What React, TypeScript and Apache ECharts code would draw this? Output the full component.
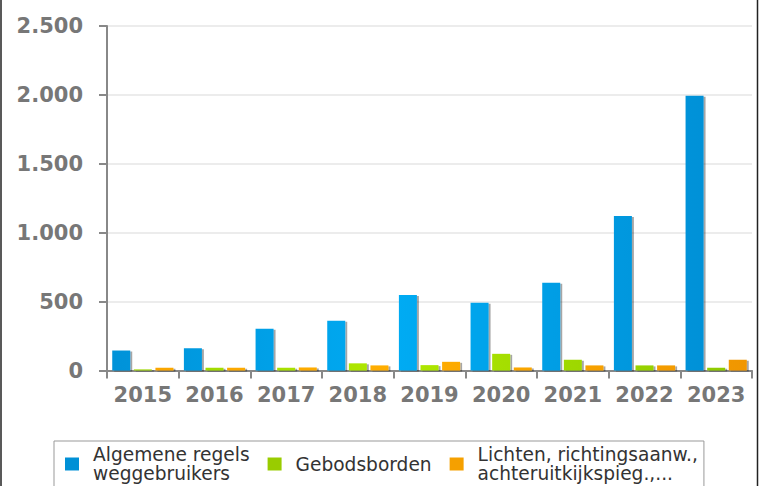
import React, { useEffect, useRef } from "react";
import * as echarts from "echarts";

const categories = ["2015", "2016", "2017", "2018", "2019", "2020", "2021", "2022", "2023"];
const seriesNames = [
  "Algemene regels\nweggebruikers",
  "Gebodsborden",
  "Lichten, richtingsaanw.,\nachteruitkijkspieg.,...",
];
const algemeneRegels = [145, 162, 303, 361, 547, 492, 637, 1121, 1993];
const gebodsborden = [8, 20, 20, 52, 39, 121, 78, 37, 20];
const lichten = [20, 20, 22, 37, 63, 22, 37, 37, 78];
const legendColors = ["#0090d6", "#99cc00", "#f5a000"];

const GRID_LEFT = 107;
const GRID_RIGHT_X = 752;

function grad(c0: string, c1: string, c2: string) {
  return new echarts.graphic.LinearGradient(
    GRID_LEFT,
    0,
    GRID_RIGHT_X,
    0,
    [
      { offset: 0, color: c0 },
      { offset: 0.45, color: c1 },
      { offset: 1, color: c2 },
    ],
    true
  );
}

function fmt(v: number) {
  return String(v).replace(/\B(?=(\d{3})+(?!\d))/g, ".");
}

export default function App() {
  const ref = useRef<HTMLDivElement>(null);
  useEffect(() => {
    if (!ref.current) return;
    const chart = echarts.init(ref.current, undefined, { renderer: "svg" });
    const shadow = {
      shadowColor: "rgba(0,0,0,0.35)",
      shadowOffsetX: 2,
      shadowOffsetY: 1,
      shadowBlur: 1,
    };
    const fills = [
      grad("#0092d8", "#00abf3", "#008dd3"),
      grad("#9ad400", "#b0e800", "#8cc800"),
      grad("#f9a400", "#ffae00", "#f09600"),
    ];
    const values = [algemeneRegels, gebodsborden, lichten];
    chart.setOption({
      animation: false,
      textStyle: { fontFamily: "DejaVu Sans" },
      graphic: [
        {
          type: "line",
          shape: { x1: 1, y1: -5, x2: 1, y2: 495 },
          style: { stroke: "#222", lineWidth: 1.5 },
          silent: true,
        },
        {
          type: "line",
          shape: { x1: 757.5, y1: -5, x2: 757.5, y2: 495 },
          style: { stroke: "#222", lineWidth: 1.5 },
          silent: true,
        },
      ],
      grid: {
        left: GRID_LEFT,
        right: 765 - GRID_RIGHT_X,
        top: 26,
        bottom: 486 - 370.5,
        containLabel: false,
      },
      legend: {
        left: 54,
        top: 441,
        orient: "horizontal",
        icon: "rect",
        itemWidth: 14,
        itemHeight: 13,
        itemGap: 18,
        borderColor: "#999",
        borderWidth: 1,
        padding: [4, 6, 5, 11],
        textStyle: {
          fontFamily: "DejaVu Sans",
          fontSize: 18.6,
          lineHeight: 19,
          color: "#333",
          padding: [0, 0, 0, 9],
        },
        data: seriesNames.map((n, i) => ({
          name: n,
          itemStyle: { color: legendColors[i] },
        })),
      },
      xAxis: {
        type: "category",
        data: categories,
        axisLine: { lineStyle: { color: "#888", width: 2 } },
        axisTick: { show: true, length: 8, lineStyle: { color: "#888", width: 2 } },
        axisLabel: {
          interval: 0,
          fontFamily: "DejaVu Sans",
          fontSize: 21,
          fontWeight: "bold",
          color: "#777",
          margin: 14,
          lineHeight: 21,
        },
        splitLine: { show: false },
      },
      yAxis: {
        type: "value",
        min: 0,
        max: 2500,
        interval: 500,
        axisLine: { show: true, lineStyle: { color: "#888", width: 2 } },
        axisTick: { show: true, length: 8, lineStyle: { color: "#888", width: 2 } },
        axisLabel: {
          fontFamily: "DejaVu Sans",
          fontSize: 21,
          fontWeight: "bold",
          color: "#777",
          margin: 24,
          formatter: (v: number) => fmt(v),
        },
        splitLine: { show: true, lineStyle: { color: "#e6e6e6", width: 1.5 } },
      },
      series: seriesNames.map((name, i) => ({
        name,
        type: "bar",
        data: values[i],
        barGap: "20%",
        barCategoryGap: "14.6%",
        itemStyle: { color: fills[i], ...shadow },
      })),
    });
    return () => chart.dispose();
  }, []);
  return (
    <div
      ref={ref}
      style={{
        position: "fixed",
        left: 0,
        top: 0,
        width: 765,
        height: 486,
        background: "#fff",
      }}
    />
  );
}
